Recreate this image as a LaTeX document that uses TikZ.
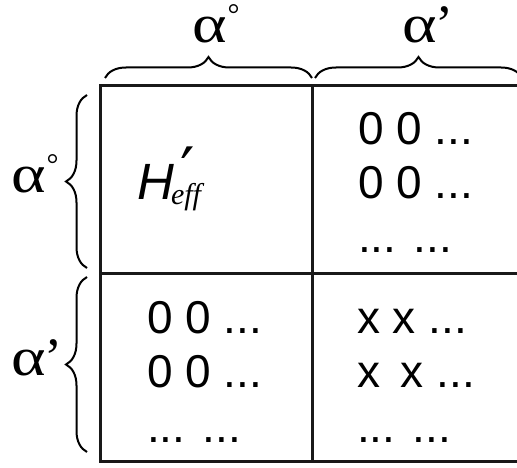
\documentclass[tikz,border=0pt]{standalone}
\usepackage{fontspec}
\setmainfont{Liberation Sans}
\newfontfamily\serfont{Liberation Serif}
\newfontfamily\djfont{DejaVu Sans}
\usetikzlibrary{decorations.pathreplacing}
\newcommand{\widealpha}{\scalebox{1.22}[1.0]{α}}
\begin{document}
\begin{tikzpicture}[x=1pt,y=-1pt,
  gridline/.style={line width=3pt, draw=black!90},
  bracestyle/.style={line width=2pt, decorate, decoration={brace, amplitude=21pt}},
  celltext/.style={anchor=base west, inner sep=0, font=\fontsize{46}{46}\selectfont},
  greek/.style={anchor=base west, inner sep=0, font=\serfont\fontsize{54}{54}\selectfont}]
\useasboundingbox (0,0) rectangle (517,468);
\clip (0,0) rectangle (517,468);
% grid
\coordinate (tl) at (100,86);
\coordinate (br) at (535,461);
\draw[gridline] (tl) rectangle (br);
\coordinate (mt) at (312,86);
\coordinate (mb) at (312,461);
\coordinate (ml) at (100,273);
\coordinate (mr) at (535,273);
\draw[gridline] (mt) -- (mb);
\draw[gridline] (ml) -- (mr);
% top braces
\coordinate (b1a) at (105,78);
\coordinate (b1b) at (312,78);
\coordinate (b2a) at (315,78);
\coordinate (b2b) at (522,78);
\draw[bracestyle] (b1a) -- (b1b);
\draw[bracestyle] (b2a) -- (b2b);
% left braces
\coordinate (l1a) at (87,268);
\coordinate (l1b) at (87,95);
\coordinate (l2a) at (87,452);
\coordinate (l2b) at (87,277);
\draw[bracestyle] (l1a) -- (l1b);
\draw[bracestyle] (l2a) -- (l2b);
% greek labels
\node[greek] (ta) at (192,43) {\widealpha\kern1pt\raisebox{18pt}{\fontsize{30}{30}\selectfont °}};
\node[greek] (tb) at (402,43) {\widealpha\kern-1pt’};
\node[greek] (la) at (11,193) {\widealpha\kern1pt\raisebox{18pt}{\fontsize{30}{30}\selectfont °}};
\node[greek] (lb) at (11,375) {\widealpha\kern-1pt’};
% H'eff
\node[anchor=base west, inner sep=0] (heff) at (137,200)
  {\fontsize{51}{51}\selectfont\itshape H\kern-3pt\rlap{\kern9pt\raisebox{6pt}{\djfont\upshape\fontsize{64}{64}\selectfont ′}}\raisebox{-5pt}{\serfont\itshape\fontsize{30}{30}\selectfont eff}};
% upper right
\node[celltext] (ur1) at (358,145) {0 0 ...};
\node[celltext] (ur2) at (358,198) {0 0 ...};
\node[celltext] (ur3) at (358,252) {... ...};
% lower left
\node[celltext] (ll1) at (147,333) {0 0 ...};
\node[celltext] (ll2) at (147,387) {0 0 ...};
\node[celltext] (ll3) at (147,442) {... ...};
% lower right
\node[celltext] (lr1) at (357,333) {x x ...};
\node[celltext] (lr2) at (357,387) {x\kern8pt\ x ...};
\node[celltext] (lr3) at (357,442) {... ...};
\end{tikzpicture}
\end{document}
